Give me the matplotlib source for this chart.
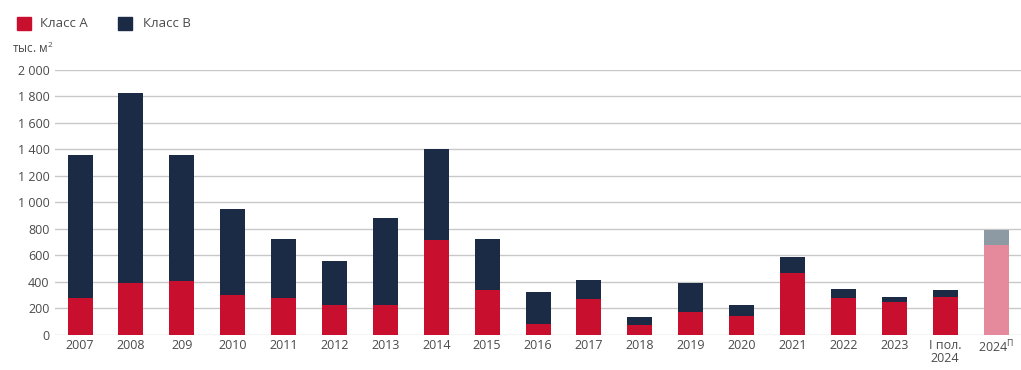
"""Ввод офисов классов А и В по годам."""

import matplotlib
matplotlib.use("Agg")
import matplotlib.pyplot as plt
from matplotlib.patches import Rectangle
from matplotlib.ticker import FuncFormatter

# Data (тыс. м²)
years = ["2007", "2008", "209", "2010", "2011", "2012", "2013", "2014", "2015",
         "2016", "2017", "2018", "2019", "2020", "2021", "2022", "2023",
         "I пол.\n2024", "2024$^{\\mathregular{П}}$"]
class_a = [275, 395, 405, 300, 275, 225, 225, 715, 340, 80, 270, 75, 170, 145,
           465, 275, 245, 285, 680]
class_b = [1085, 1430, 955, 650, 445, 330, 660, 685, 380, 240, 145, 60, 220, 80,
           125, 70, 40, 50, 110]

RED = "#c8102e"
NAVY = "#1b2a45"
RED_F = "#e58a9c"
GREY_F = "#8e9aa3"
TXT = "#4a4a4a"

plt.rcParams['font.family'] = ['Open Sans', 'DejaVu Sans']

fig = plt.figure(figsize=(10.21, 3.70), dpi=100)
ax = fig.add_axes([0.054, 0.095, 0.946, 0.716])

x = list(range(len(years)))
a_colors = [RED] * (len(years) - 1) + [RED_F]
b_colors = [NAVY] * (len(years) - 1) + [GREY_F]
ax.bar(x, class_a, width=0.49, color=a_colors, zorder=3)
ax.bar(x, class_b, bottom=class_a, width=0.49, color=b_colors, zorder=3)

ax.set_xlim(-0.49, len(years) - 0.51)
ax.set_ylim(0, 2000)
ax.set_yticks(range(0, 2001, 200))
ax.yaxis.set_major_formatter(FuncFormatter(lambda v, p: f"{int(v):,}".replace(",", " ")))
ax.set_xticks(x)
ax.set_xticklabels(years, linespacing=1.0)
ax.grid(axis="y", color="#c8c8c8", linewidth=1.0, zorder=0)
ax.set_axisbelow(True)
for s in ax.spines.values():
    s.set_visible(False)
ax.tick_params(axis="both", length=0, colors=TXT, labelsize=9)
ax.tick_params(axis="x", pad=3)
ax.tick_params(axis="y", pad=4)

fig.text(0.012, 0.870, "тыс. м$^{\\mathregular{2}}$", fontsize=8.5, color=TXT, va="center")

# legend
fig.patches.append(Rectangle((0.0166, 0.919), 0.0137, 0.035, transform=fig.transFigure,
                             color=RED, figure=fig))
fig.text(0.039, 0.937, "Класс А", fontsize=9.5, color=TXT, va="center")
fig.patches.append(Rectangle((0.1156, 0.919), 0.0137, 0.035, transform=fig.transFigure,
                             color=NAVY, figure=fig))
fig.text(0.140, 0.937, "Класс В", fontsize=9.5, color=TXT, va="center")

fig.savefig("out.png", dpi=100)
